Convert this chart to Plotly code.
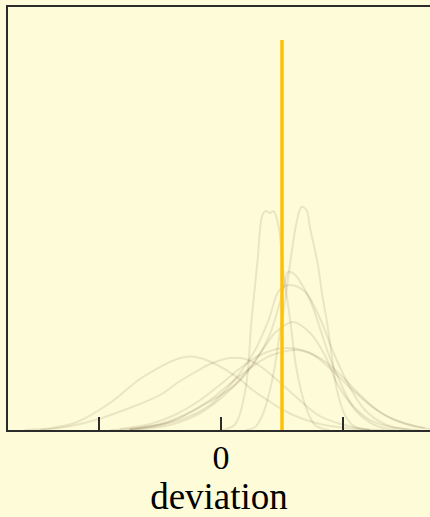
import plotly.graph_objects as go

# Posterior density curves of the deviation (x, density) for each draw
curve_x = [
    [0.01, 0.11, 0.20, 0.25, 0.30, 0.34, 0.37, 0.40, 0.43, 0.47, 0.51, 0.57, 0.62, 0.69, 0.77, 0.89],
    [0.20, 0.28, 0.34, 0.42, 0.48, 0.52, 0.55, 0.58, 0.62, 0.66, 0.70, 0.73, 0.79, 0.83, 0.87, 0.91, 0.95, 1.02, 1.10, 1.22],
    [-0.75, -0.44, -0.17, 0.16, 0.38, 0.51, 0.55, 0.60, 0.65, 0.73, 0.89, 0.98, 1.10, 1.26, 1.43],
    [-0.91, -0.67, -0.34, -0.09, 0.11, 0.28, 0.39, 0.48, 0.57, 0.69, 0.81, 0.93, 1.06, 1.18, 1.34, 1.55],
    [-0.75, -0.42, -0.17, 0.03, 0.20, 0.34, 0.45, 0.59, 0.73, 0.85, 0.95, 1.06, 1.22, 1.43, 1.63],
    [-0.83, -0.58, -0.38, -0.17, -0.01, 0.16, 0.32, 0.52, 0.73, 0.89, 1.06, 1.22, 1.39, 1.55, 1.71],
    [-0.75, -0.50, -0.30, -0.09, 0.07, 0.24, 0.40, 0.62, 0.81, 0.98, 1.14, 1.30, 1.47, 1.67],
    [-1.61, -1.39, -1.18, -0.91, -0.64, -0.30, -0.17, -0.03, 0.13, 0.26, 0.38, 0.51, 0.65, 0.81, 1.02, 1.22],
    [-1.48, -1.23, -1.03, -0.75, -0.50, -0.36, -0.21, -0.09, 0.07, 0.20, 0.32, 0.44, 0.57, 0.69, 0.81, 0.98, 1.18, 1.34],
]
curve_y = [
    [0.00, 0.05, 0.40, 1.10, 1.70, 2.15, 2.19, 2.17, 2.19, 2.05, 1.60, 1.07, 0.60, 0.25, 0.05, 0.00],
    [0.00, 0.03, 0.15, 0.50, 0.95, 1.25, 1.52, 1.78, 2.08, 2.23, 2.20, 2.02, 1.68, 1.35, 1.07, 0.72, 0.40, 0.14, 0.03, 0.00],
    [0.00, 0.07, 0.23, 0.50, 0.90, 1.40, 1.58, 1.56, 1.48, 1.30, 0.73, 0.47, 0.20, 0.05, 0.00],
    [0.00, 0.02, 0.10, 0.25, 0.50, 0.80, 1.10, 1.40, 1.45, 1.38, 1.12, 0.75, 0.42, 0.20, 0.06, 0.00],
    [0.00, 0.05, 0.17, 0.35, 0.57, 0.80, 0.98, 1.08, 0.97, 0.75, 0.47, 0.27, 0.10, 0.02, 0.00],
    [0.01, 0.06, 0.15, 0.30, 0.45, 0.62, 0.75, 0.82, 0.77, 0.62, 0.42, 0.25, 0.12, 0.05, 0.01],
    [0.01, 0.06, 0.15, 0.30, 0.46, 0.62, 0.74, 0.80, 0.72, 0.55, 0.35, 0.18, 0.08, 0.02],
    [0.00, 0.02, 0.08, 0.27, 0.53, 0.73, 0.72, 0.65, 0.53, 0.40, 0.30, 0.20, 0.12, 0.06, 0.02, 0.00],
    [0.00, 0.04, 0.10, 0.22, 0.35, 0.47, 0.58, 0.66, 0.72, 0.71, 0.64, 0.52, 0.38, 0.25, 0.14, 0.06, 0.01, 0.00],
]

# True deviation marker
true_x = [0.5, 0.5]
true_y = [0.0, 3.9]

tick_vals = [-1, 0, 1]
tick_text = ["", "0", ""]

bg = "#FEFCD8"
ink = "#2b2b2b"

fig = go.Figure()
for xs, ys in zip(curve_x, curve_y):
    fig.add_trace(go.Scatter(
        x=xs, y=ys, mode="lines",
        line=dict(color="rgba(70,45,15,0.11)", width=2, shape="spline", smoothing=1.0),
        hoverinfo="skip", showlegend=False,
    ))

fig.add_trace(go.Scatter(
    x=true_x, y=true_y, mode="lines",
    line=dict(color="#FFC107", width=3.5),
    hoverinfo="skip", showlegend=False,
))

fig.update_layout(
    width=430, height=517,
    margin=dict(l=8, r=0, t=7, b=87),
    paper_bgcolor=bg, plot_bgcolor=bg,
    font=dict(family="Liberation Serif, DejaVu Serif, serif", color="black", size=34),
    xaxis=dict(
        range=[-1.746, 1.713],
        automargin=True,
        showgrid=False, zeroline=False,
        showline=True, linecolor=ink, linewidth=2, mirror=True,
        ticks="inside", ticklen=13, tickwidth=1.5, tickcolor=ink,
        tickvals=tick_vals, ticktext=tick_text,
        tickfont=dict(size=34),
        ticklabelstandoff=-4,
        title=dict(text="deviation", font=dict(size=37), standoff=10),
    ),
    yaxis=dict(
        range=[0, 4.23],
        showgrid=False, zeroline=False,
        showline=True, linecolor=ink, linewidth=2,
        ticks="", showticklabels=False,
    ),
)

fig.write_html("out.html")
